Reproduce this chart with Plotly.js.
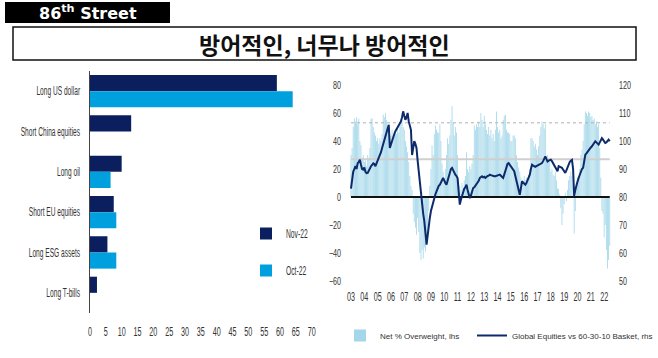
<!DOCTYPE html>
<html>
<head>
<meta charset="utf-8">
<script src="https://cdn.plot.ly/plotly-3.0.1.min.js"></script>
<style>
  html, body { margin: 0; padding: 0; background: #ffffff; overflow: hidden; }
  #chart { width: 658px; height: 358px; }
  #chart g.legend text.legendtext {
    transform-box: fill-box;
    transform-origin: 0% 50%;
    transform: scaleX(0.56);
  }
</style>
</head>
<body>
<div id="chart"></div>
<script>
// ---- Left chart: most crowded trades ----
const tradeCategories = ['Long US dollar', 'Short China equities', 'Long oil', 'Short EU equities', 'Long ESG assets', 'Long T-bills'];
const nov22 = [59, 13, 10, 7.5, 5.5, 2.2];
const oct22 = [64, null, 6.5, 8.3, 8.3, null];
const barSeriesNames = ['Nov-22', 'Oct-22'];

// ---- Right chart: monthly series, first month Jun 2003 ----
const startYear = 2003;
const startMonth = 6;
const netOverweight = [
  30, 35, 50, 56, 54, 57, 52,
  56, 40, 37, 28, 30, 25, 26, 22, 30, 28, 35, 56,
  56, 50, 46, 44, 40, 42, 38, 42, 40, 45, 59, 57,
  60, 55, 48, 46, 40, 44, 48, 42, 46, 47, 45, 50,
  46, 53, 52, 55, 50, 48, 40, 36, 32, 25, 15, 8,
  5, -12, -18, -22, -27, -15, -25, -40, -45, -38, -44, -36,
  -39, -30, -29, -10, 8, 20, 37, 30, 45, 51, 48, 46,
  46, 52, 40, 24, 18, 11, 20, 30, 42, 38, 44, 55,
  65, 53, 44, 50, 46, 30, 12, 8, 5, 10, 6, 12,
  15, 32, 20, 18, 22, 20, 24, 30, 51, 48, 52, 50,
  54, 50, 60, 55, 50, 58, 52, 48, 45, 50, 44, 48,
  42, 45, 40, 48, 61, 50, 46, 48, 42, 44, 55, 58,
  59, 48, 46, 46, 45, 40, 40, 44, 44, 42, 30, 25,
  21, 18, 14, 12, 10, 15, 12, 14, 10, 16, 20, 42,
  42, 40, 36, 38, 34, 30, 36, 44, 50, 54, 52, 49,
  52, 28, 30, 25, 28, 18, 20, 16, 15, 18, 12, 6,
  6, 2, -8, -20, -12, -5, 3, -3, 5, 12, 15, 18,
  15, 10, -26, -10, 10, 14, 12, 20, 30, 34, 40, 52,
  61, 60, 58, 61, 60, 57, 58, 55, 56, 52, 54, 50,
  52, 35, 14, -10, -12, -29, -20, -38, -51, -45, -35
];
const equitiesVsBasket = [
  83, 86, 89, 90, 91, 90, 92,
  92.5, 93.3, 91.5, 90, 89.8, 90.5, 89, 88.5, 88.6, 89.5, 90.5, 91,
  91.5, 92, 91.8, 91, 92, 93, 94, 94.6, 96, 97.5, 99, 100,
  101, 102.5, 104, 105.8, 97.5, 99, 100.5, 101.5, 102.5, 103.5, 104.2, 104.6,
  105.5, 106.5, 107, 108.5, 110.6, 109, 107.6, 108.5, 110, 107, 105.8, 104,
  95, 97, 99.9, 99, 97.5, 93, 89.2, 85, 80, 77.3, 74, 71.4,
  66, 63, 66, 70, 72.5, 75, 76.5, 78.5, 80, 81, 82, 83.5,
  84, 84.4, 85.5, 86, 86.8, 85.5, 85, 84.4, 86, 87.5, 89, 90,
  90.4, 89.5, 88.5, 88, 87.5, 86.8, 82, 77.3, 79, 80.5, 82, 83,
  83.5, 84.4, 82.5, 80.5, 79.6, 80.5, 82, 83.2, 83.5, 84, 84.4, 85,
  85.8, 86.8, 87, 87.4, 87, 87.2, 86.8, 87.2, 87.5, 87.6, 88, 87.8,
  87.6, 87.5, 87.4, 87.4, 87.6, 87.8, 87.8, 88, 87.6, 87.2, 86.8, 88,
  89.5, 91, 91.8, 92.1, 91.5, 91, 90.4, 90, 89.2, 87.5, 85.5, 84.4,
  82.5, 80.8, 83, 85.6, 85.2, 84.8, 84.4, 85, 86, 86.8, 88, 90,
  91.5, 91.2, 91, 90.8, 91, 91.2, 91.5, 91.8, 92, 92.1, 92.8, 93.8,
  94.5, 93.5, 92.7, 93, 93.2, 93.3, 92.8, 92, 91.5, 90.5, 89.8, 89.2,
  91, 90.8, 90.6, 90.4, 89.8, 89.2, 88.6, 89.5, 90.5, 92.1, 92.5, 93,
  93.3, 90, 80.2, 82.5, 84.4, 85.5, 86.8, 88, 89, 90, 90.4, 92.5,
  95.1, 95.6, 96.2, 96.9, 97.3, 97.7, 98.1, 98.8, 99.3, 99.9, 99.5, 99,
  98.7, 99.5, 100.3, 101, 100.5, 100, 99.3, 99.5, 100, 100.5, 99.9
];
const upperBand = 53;   // dotted reference level (lhs)
const meanLevel = 27;   // solid grey reference level (lhs)
const yearLabels = ['03','04','05','06','07','08','09','10','11','12','13','14','15','16','17','18','19','20','21','22'];
const leftTicks = [-60, -40, -20, 0, 20, 40, 60, 80];
const rightTicks = [50, 60, 70, 80, 90, 100, 110, 120];
const seriesNames = ['Net % Overweight, lhs', 'Global Equities vs 60-30-10 Basket, rhs'];

// ---- build dates ----
function monthDate(i) {
  const total = (startMonth - 1) + i;
  const y = startYear + Math.floor(total / 12);
  const m = (total % 12) + 1;
  return y + '-' + String(m).padStart(2, '0') + '-01';
}
const dates = netOverweight.map((_, i) => monthDate(i));
const firstDate = dates[0];
const lastDate = dates[dates.length - 1];
const tickDates = yearLabels.map((_, k) => (startYear + k) + '-06-01');

const SANS = '"Liberation Sans", Arial, sans-serif';
const W = 658, H = 358;
const px = v => v / W;
const py = v => 1 - v / H;

const traces = [
  { type: 'bar', orientation: 'h', name: barSeriesNames[0], y: tradeCategories, x: nov22,
    marker: { color: '#0b1f5e' }, xaxis: 'x', yaxis: 'y', legend: 'legend', legendgroup: 'a' },
  { type: 'bar', orientation: 'h', name: barSeriesNames[1], y: tradeCategories, x: oct22,
    marker: { color: '#00a0df' }, xaxis: 'x', yaxis: 'y', legend: 'legend', legendgroup: 'b' },
  { type: 'bar', name: seriesNames[0], x: dates, y: netOverweight,
    marker: { color: '#a3d7e9', line: { width: 0 } }, xaxis: 'x2', yaxis: 'y2', legend: 'legend2' },
  { type: 'scatter', mode: 'lines', x: [firstDate, lastDate], y: [upperBand, upperBand],
    line: { color: '#b0b0b0', width: 1, dash: 'dot' }, xaxis: 'x2', yaxis: 'y2', showlegend: false, hoverinfo: 'skip' },
  { type: 'scatter', mode: 'lines', x: [firstDate, lastDate], y: [meanLevel, meanLevel],
    line: { color: '#cfcfcf', width: 2 }, xaxis: 'x2', yaxis: 'y2', showlegend: false, hoverinfo: 'skip' },
  { type: 'scatter', mode: 'lines', x: [firstDate, lastDate], y: [0, 0],
    line: { color: '#111111', width: 2 }, xaxis: 'x2', yaxis: 'y2', showlegend: false, hoverinfo: 'skip' },
  { type: 'scatter', mode: 'lines', name: seriesNames[1], x: dates, y: equitiesVsBasket,
    line: { color: '#0d2a6b', width: 2 }, xaxis: 'x2', yaxis: 'y3', legend: 'legend3' }
];

const catFont = { family: SANS, size: 12, color: '#333333' };
const numFont = { family: SANS, size: 12, color: '#333333' };
const smallNumFont = { family: SANS, size: 10.5, color: '#333333' };

const layout = {
  width: W, height: H,
  margin: { l: 0, r: 0, t: 0, b: 0, autoexpand: false },
  paper_bgcolor: '#ffffff', plot_bgcolor: 'rgba(0,0,0,0)',
  barmode: 'group', bargap: 0.2, bargroupgap: 0,
  font: { family: SANS, size: 10, color: '#333333' },
  xaxis: { domain: [px(90), px(311.7)], range: [0, 70], dtick: 5, tick0: 0, anchor: 'y',
    showgrid: false, zeroline: false, showline: false, ticks: '', ticklabelstandoff: 10, tickangle: 0,
    tickfont: numFont, fixedrange: true, automargin: false },
  yaxis: { domain: [py(313), py(71)], type: 'category', categoryorder: 'array', categoryarray: tradeCategories,
    autorange: 'reversed', anchor: 'x', showgrid: false, zeroline: false,
    showline: true, linecolor: '#444444', linewidth: 1.5, ticks: '', ticklabelstandoff: 6,
    tickfont: catFont, fixedrange: true, automargin: false },
  xaxis2: { domain: [px(345), px(616)], type: 'date', range: ['2002-12-19', '2023-04-22'], anchor: 'y2',
    tickmode: 'array', tickvals: tickDates, ticktext: yearLabels, tickangle: 0,
    showgrid: false, zeroline: false, showline: false, ticks: '', ticklabelstandoff: 0,
    tickfont: numFont, fixedrange: true, automargin: false },
  yaxis2: { domain: [py(288), py(78)], range: [-65, 85], anchor: 'x2', side: 'left',
    tickmode: 'array', tickvals: leftTicks,
    showgrid: false, zeroline: false, showline: false, ticks: '', ticklabelstandoff: 3,
    tickfont: smallNumFont, fixedrange: true, automargin: false },
  yaxis3: { overlaying: 'y2', side: 'right', range: [47.5, 122.5], anchor: 'x2',
    tickmode: 'array', tickvals: rightTicks,
    showgrid: false, zeroline: false, showline: false, ticks: '', ticklabelstandoff: 2,
    tickfont: smallNumFont, fixedrange: true, automargin: false },
  legend: { x: px(246), y: py(219), xanchor: 'left', yanchor: 'top', bgcolor: 'rgba(0,0,0,0)',
    traceorder: 'grouped', tracegroupgap: 18, font: { family: SANS, size: 12, color: '#333333' } },
  legend2: { x: px(340), y: py(321), xanchor: 'left', yanchor: 'top', bgcolor: 'rgba(0,0,0,0)',
    font: { family: SANS, size: 8, color: '#333333' } },
  legend3: { x: 1, y: py(321), xanchor: 'right', yanchor: 'top', bgcolor: 'rgba(0,0,0,0)',
    font: { family: SANS, size: 8, color: '#333333' } },
  shapes: [
    { type: 'rect', xref: 'paper', yref: 'paper', x0: px(5), x1: px(170), y0: py(23), y1: py(2),
      fillcolor: '#000000', line: { width: 0 } },
    { type: 'rect', xref: 'paper', yref: 'paper', x0: px(13), x1: px(636), y0: py(60), y1: py(27),
      fillcolor: 'rgba(0,0,0,0)', line: { color: '#111111', width: 1.5 } }
  ],
  annotations: [
    { xref: 'paper', yref: 'paper', x: px(88), y: py(12.5), xanchor: 'center', yanchor: 'middle',
      text: '<b>86<sup>th</sup> Street</b>', showarrow: false,
      font: { family: '"DejaVu Sans", Verdana, sans-serif', size: 16, color: '#ffffff' } },
    { xref: 'paper', yref: 'paper', x: px(324), y: py(44), xanchor: 'center', yanchor: 'middle',
      text: '<b>방어적인, 너무나 방어적인</b>', showarrow: false,
      font: { family: '"Noto Sans CJK KR", "Noto Sans", sans-serif', size: 23, color: '#111111' } }
  ]
};

// The reference uses a strongly condensed face: squeeze tick glyphs horizontally.
const rules = [
  ['.ytick text', 0.55],
  ['.xtick text', 0.6],
  ['.x2tick text', 0.6],
  ['.y2tick text', 0.68],
  ['.y3tick text', 0.68]
];
const measureCtx = document.createElement('canvas').getContext('2d');
function naturalWidth(t) {
  const s = t.style;
  const fam = s.fontFamily || 'Liberation Sans';
  const size = s.fontSize || '11px';
  measureCtx.font = (s.fontWeight || 'normal') + ' ' + size + ' ' + fam;
  return measureCtx.measureText(t.textContent).width;
}
function squeezeAll() {
  rules.forEach(([sel, factor]) => {
    document.querySelectorAll('#chart ' + sel).forEach(t => {
      const content = t.textContent;
      if (!content || t.getAttribute('data-sq') === content) return;
      const w = naturalWidth(t);
      if (w > 0) {
        t.setAttribute('textLength', (w * factor).toFixed(2));
        t.setAttribute('lengthAdjust', 'spacingAndGlyphs');
        t.setAttribute('data-sq', content);
      }
    });
  });
}

const gd = document.getElementById('chart');
const observer = new MutationObserver(() => squeezeAll());
observer.observe(gd, { childList: true, subtree: true, characterData: true });
Plotly.newPlot(gd, traces, layout, { staticPlot: true, displayModeBar: false }).then(() => {
  squeezeAll();
  requestAnimationFrame(squeezeAll);
  setTimeout(squeezeAll, 30);
});
</script>
</body>
</html>
